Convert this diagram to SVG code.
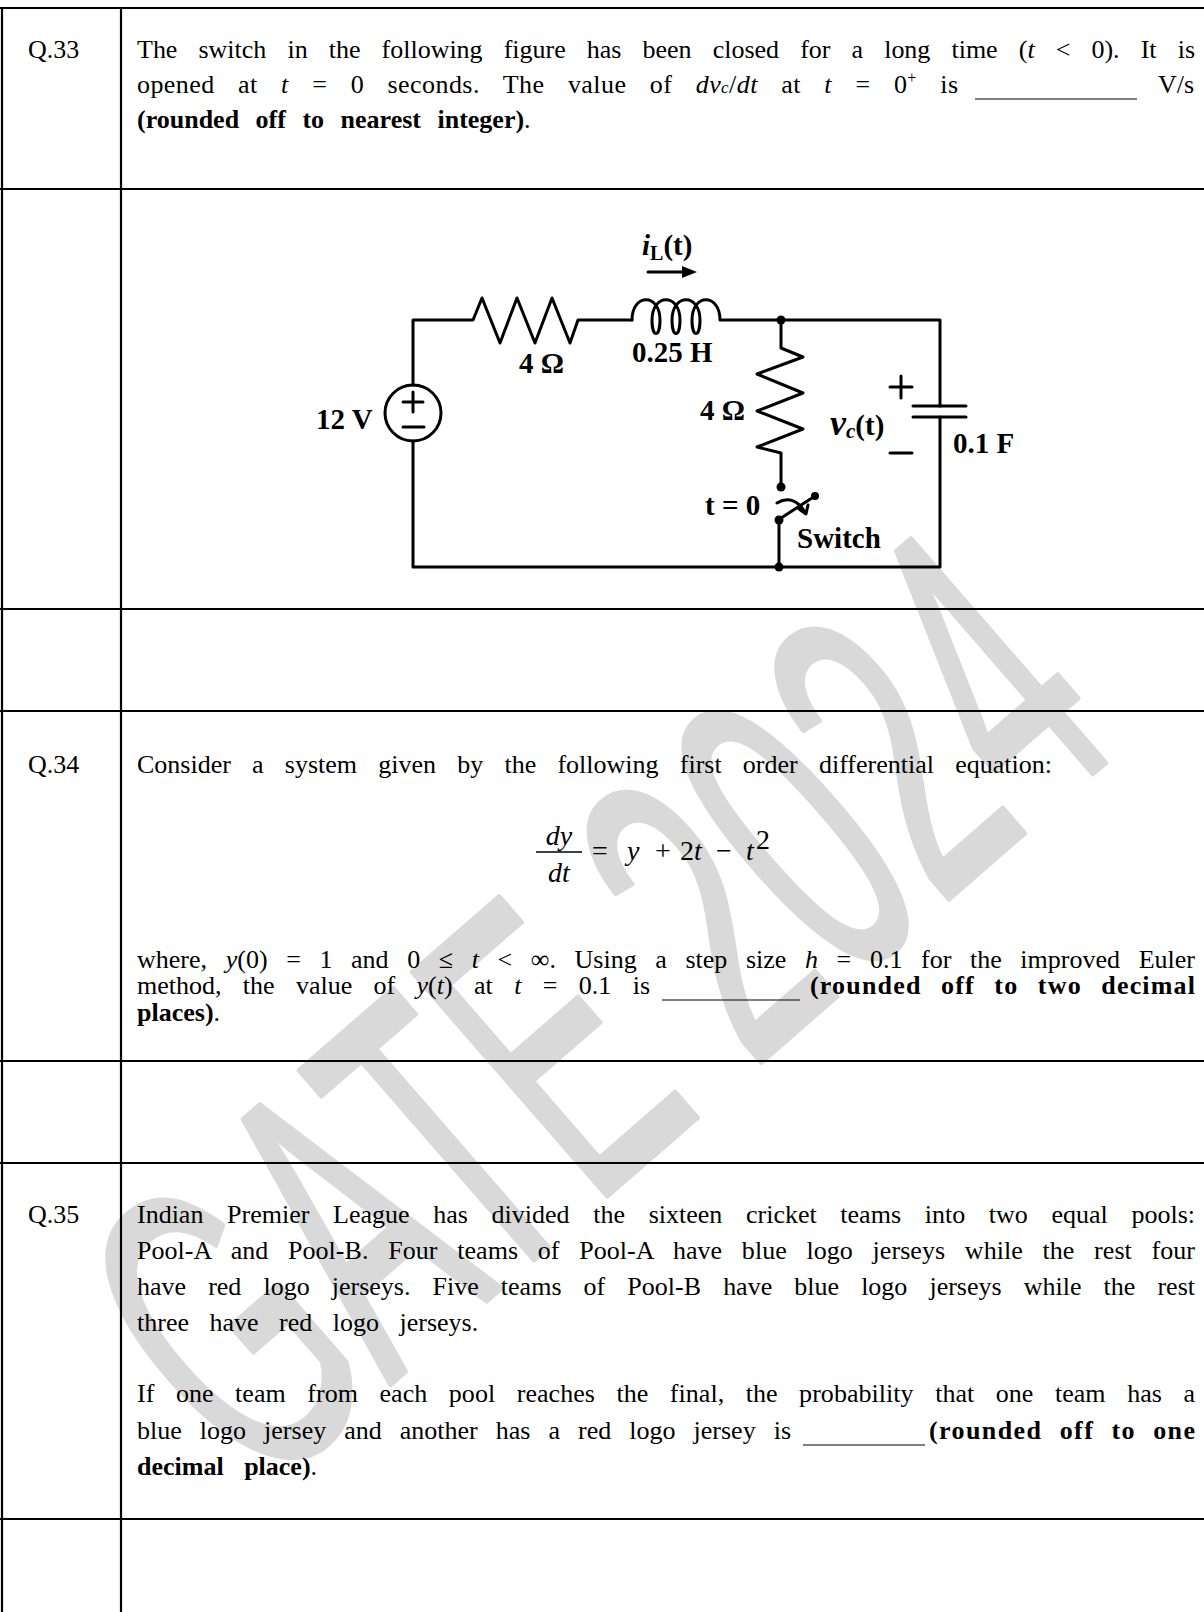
<svg xmlns="http://www.w3.org/2000/svg" width="1204" height="1612" viewBox="0 0 1204 1612">
<style>
.t{font-family:"Liberation Serif","Times New Roman",serif;font-size:26px;fill:#000}
.b{font-weight:bold}
.m{font-family:"Liberation Serif","Times New Roman",serif;font-style:italic}
.eq{font-family:"Liberation Serif","Times New Roman",serif;font-size:28px;fill:#000}
.lbl{font-family:"Liberation Serif","Times New Roman",serif;font-weight:bold;font-size:29px;fill:#000}
.w{stroke:#000;stroke-width:3;fill:none;stroke-linejoin:round;stroke-linecap:round}
.grid{stroke:#000;stroke-width:2.2;fill:none}
.dot{fill:#000}
.ul{stroke:#000;stroke-width:1}
</style>
<rect width="1204" height="1612" fill="#fff"/>
<g id="watermark">
<text transform="translate(258,1499) rotate(-41) scale(0.52,1)" font-family="Liberation Sans, Arial, sans-serif" font-size="430" fill="#d9d9d9" stroke="#d9d9d9" stroke-width="6" stroke-linejoin="round">GATE 2024</text>
</g>
<g id="table">
<line class="grid" x1="0" y1="8" x2="1204" y2="8"/>
<line class="grid" x1="2" y1="8" x2="2" y2="1612"/>
<line class="grid" x1="121" y1="8" x2="121" y2="1612"/>
<line class="grid" x1="0" y1="189" x2="1204" y2="189"/>
<line class="grid" x1="0" y1="609" x2="1204" y2="609"/>
<line class="grid" x1="0" y1="711" x2="1204" y2="711"/>
<line class="grid" x1="0" y1="1061" x2="1204" y2="1061"/>
<line class="grid" x1="0" y1="1163" x2="1204" y2="1163"/>
<line class="grid" x1="0" y1="1519" x2="1204" y2="1519"/>
</g>
<g id="q33">
<text class="t" x="28" y="58">Q.33</text>
<text class="t" x="137" y="58" word-spacing="14.6" textLength="1058" lengthAdjust="spacing">The switch in the following figure has been closed for a long time (<tspan class="m">t</tspan> &lt; 0). It is</text>
<text class="t" x="137" y="93" word-spacing="16.5" textLength="821" lengthAdjust="spacing">opened at <tspan class="m">t</tspan> = 0 seconds. The value of <tspan class="m">dv</tspan><tspan class="m" font-size="17">c</tspan>/<tspan class="m">dt</tspan> at <tspan class="m">t</tspan> =  0<tspan font-size="16" dy="-10">+</tspan><tspan dy="10"> is</tspan></text>
<line class="ul" x1="975" y1="99" x2="1137" y2="99"/>
<text class="t" x="1194" y="93" text-anchor="end">V/s</text>
<text class="t" x="137" y="128" word-spacing="10"><tspan class="b">(rounded  off to nearest integer)</tspan>.</text>
</g>
<g id="circuit">
<g id="connectors">
<path class="w" d="M413,385 L413,320 L473,320 L482,298 L500,343 L517,298 L535,343 L552,298 L570,343 L578,320 L632,320"/>
<path class="w" d="M632,320 C632,293 660,293 660,320 C660,338 652,338 652,320 C652,293 680,293 680,320 C680,338 672,338 672,320 C672,293 700,293 700,320 C700,338 692,338 692,320 C692,293 720,293 720,320 L940,320 L940,406"/>
<path class="w" d="M781,320 L781,348 L803,357 L757,374 L803,393 L757,411 L803,429 L757,447 L781,453 L781,487"/>
<path class="w" d="M413,441 L413,567 L940,567 L940,417"/>
<path class="w" d="M779,520 L779,567"/>
<path class="w" d="M913,406 L966,406 M913,417 L966,417"/>
<path class="w" d="M778,520 L815,496"/>
<path class="w" d="M777,503 C787,497 797,499 805,512"/>
<path class="w" stroke-width="2.5" d="M799,509 L806,514 L808,505"/>
<path class="w" d="M648,272 L684,272"/>
<polygon points="682,266 697,272 682,278" fill="#000"/>
</g>
<g id="source">
<circle cx="413" cy="413" r="28" class="w"/>
<path class="w" stroke-width="2.5" d="M413,392 L413,412 M403,402 L423,402 M403,427 L424,427"/>
</g>
<circle class="dot" cx="781" cy="320" r="4.5"/>
<circle class="dot" cx="781" cy="487" r="4.5"/>
<circle class="dot" cx="779" cy="520" r="4.5"/>
<circle class="dot" cx="815" cy="496" r="4"/>
<circle class="dot" cx="779" cy="567" r="4.5"/>
<path class="w" stroke-width="2.5" d="M901,376 L901,398 M890,387 L912,387 M890,453 L912,453"/>
<text class="lbl" x="316" y="429" font-size="28">12 V</text>
<text class="lbl" x="519" y="373">4 Ω</text>
<text class="lbl" x="632" y="362" font-size="30">0.25 H</text>
<text class="lbl" x="642" y="255" font-size="32"><tspan font-style="italic">i</tspan><tspan font-size="20" dy="5">L</tspan><tspan dy="-5">(t)</tspan></text>
<text class="lbl" x="700" y="420" font-size="30">4 Ω</text>
<text class="lbl" x="830" y="435" font-size="33"><tspan font-style="italic" font-size="36">v</tspan><tspan font-style="italic" font-size="21" dy="3">c</tspan><tspan dy="-3">(t)</tspan></text>
<text class="lbl" x="953" y="453" font-size="28">0.1 F</text>
<text class="lbl" x="705" y="515">t = 0</text>
<text class="lbl" x="797" y="548">Switch</text>
</g>
<g id="q34">
<text class="t" x="28" y="773">Q.34</text>
<text class="t" x="137" y="773" word-spacing="14.7" textLength="915" lengthAdjust="spacing">Consider a system given by the following first order differential equation:</text>
<g id="equation">
<text class="eq m" x="559" y="845" text-anchor="middle">dy</text>
<line x1="536" y1="852" x2="582" y2="852" stroke="#000" stroke-width="1.4"/>
<text class="eq m" x="559" y="882" text-anchor="middle">dt</text>
<text class="eq" x="592" y="860">=</text>
<text class="eq m" x="627" y="860">y</text>
<text class="eq" x="655" y="860">+</text>
<text class="eq" x="680" y="860">2<tspan class="m">t</tspan></text>
<text class="eq" x="716" y="860">−</text>
<text class="eq m" x="746" y="860">t</text>
<text class="eq" x="756" y="849" font-size="16">2</text>
</g>
<text class="t" x="137" y="968" word-spacing="12.1" textLength="1058" lengthAdjust="spacing">where, <tspan class="m">y</tspan>(0) = 1 and 0 ≤ <tspan class="m">t</tspan> &lt; ∞. Using a step size <tspan class="m">h</tspan> = 0.1 for the improved Euler</text>
<text class="t" x="137" y="994" word-spacing="14.9" textLength="513" lengthAdjust="spacing">method, the value of <tspan class="m">y</tspan>(<tspan class="m">t</tspan>) at <tspan class="m">t</tspan> = 0.1 is</text>
<line class="ul" x1="662" y1="1000" x2="800" y2="1000"/>
<text class="t b" x="810" y="994" word-spacing="11.8" textLength="385" lengthAdjust="spacing">(rounded  off to two decimal</text>
<text class="t" x="137" y="1021"><tspan class="b">places)</tspan>.</text>
</g>
<g id="q35">
<text class="t" x="28" y="1223">Q.35</text>
<text class="t" x="137" y="1223" word-spacing="17.2" textLength="1058" lengthAdjust="spacing">Indian Premier League has divided the sixteen cricket teams into two equal pools:</text>
<text class="t" x="137" y="1259" word-spacing="13.2" textLength="1058" lengthAdjust="spacing">Pool-A and Pool-B. Four teams of Pool-A have blue logo jerseys while the rest four</text>
<text class="t" x="137" y="1295" word-spacing="15.6" textLength="1058" lengthAdjust="spacing">have red logo jerseys. Five teams of Pool-B have blue logo jerseys while the rest</text>
<text class="t" x="137" y="1331" word-spacing="14">three have red logo jerseys.</text>
<text class="t" x="137" y="1402" word-spacing="15" textLength="1058" lengthAdjust="spacing">If one team from each pool reaches the final, the probability that one team has a</text>
<text class="t" x="137" y="1439" word-spacing="11.5" textLength="654" lengthAdjust="spacing">blue logo jersey and another has a red logo jersey is</text>
<line class="ul" x1="803" y1="1445" x2="925" y2="1445"/>
<text class="t b" x="929" y="1439" word-spacing="9.3" textLength="266" lengthAdjust="spacing">(rounded  off to one</text>
<text class="t" x="137" y="1475" word-spacing="14"><tspan class="b">decimal place)</tspan>.</text>
</g>
</svg>
